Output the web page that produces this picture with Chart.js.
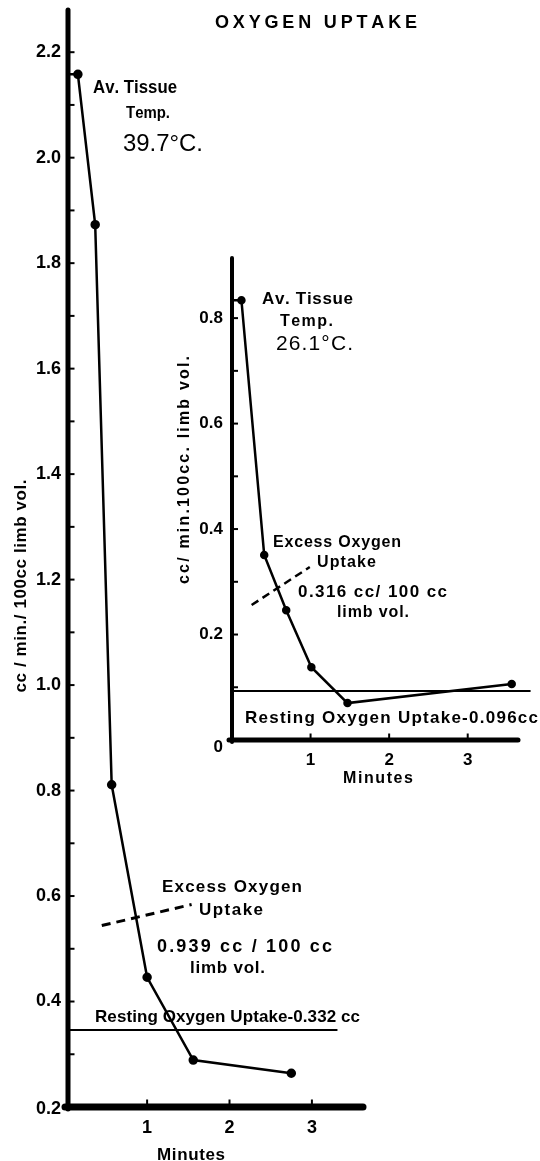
<!DOCTYPE html>
<html>
<head>
<meta charset="utf-8">
<script src="https://cdn.jsdelivr.net/npm/chart.js@4/dist/chart.umd.min.js"></script>
<style>
  html, body { margin: 0; padding: 0; background: #fff; }
  #wrap { position: relative; width: 540px; height: 1161px; overflow: hidden; }
  #wrap canvas { position: absolute; left: 0; top: 0; }
</style>
</head>
<body>
<div id="wrap">
  <canvas id="mainChart" width="540" height="1161"></canvas>
  <canvas id="insetChart" width="540" height="1161"></canvas>
</div>
<script>
// ---------- DATA ----------
// Main chart: Av. tissue temp 39.7 °C
const mainMinutes = [0.04, 0.16, 0.37, 0.57, 1.0, 1.56, 2.75];
const mainUptake  = [2.158, 2.158, 1.873, 0.811, 0.446, 0.289, 0.264];
const mainRestingMinutes = [0.04, 3.31];
const mainRestingUptake  = [0.346, 0.346];
const mainPointerMinutes = [0.45, 1.54];
const mainPointerUptake  = [0.544, 0.584];
const mainYTickValues = [0.2, 0.4, 0.6, 0.8, 1.0, 1.2, 1.4, 1.6, 1.8, 2.0, 2.2];
const mainYTickLabels = ['0.2', '0.4', '0.6', '0.8', '1.0', '1.2', '1.4', '1.6', '1.8', '2.0', '2.2'];
const mainYMinorTicks = [0.3, 0.5, 0.7, 0.9, 1.1, 1.3, 1.5, 1.7, 1.9, 2.1];
const mainXTickValues = [1, 2, 3];
const mainXTickLabels = ['1', '2', '3'];

// Inset chart: Av. tissue temp 26.1 °C
const insetMinutes = [0, 0.12, 0.41, 0.69, 1.01, 1.47, 3.56];
const insetUptake  = [0.834, 0.834, 0.351, 0.246, 0.138, 0.070, 0.106];
const insetRestingMinutes = [0, 3.80];
const insetRestingUptake  = [0.093, 0.093];
const insetPointerMinutes = [0.25, 0.99];
const insetPointerUptake  = [0.256, 0.328];
const insetYTickValues = [0, 0.2, 0.4, 0.6, 0.8];
const insetYTickLabels = ['0', '0.2', '0.4', '0.6', '0.8'];
const insetYMinorTicks = [0.1, 0.3, 0.5, 0.7];
const insetXTickValues = [1, 2, 3];
const insetXTickLabels = ['1', '2', '3'];

// ---------- helpers ----------
const FONT = '"Liberation Sans", Arial, sans-serif';
const pts = (xs, ys) => xs.map((x, i) => ({ x: x, y: ys[i] }));

function drawFitted(ctx, text, xl, xr, baseline, size, weight) {
  ctx.font = weight + ' ' + size + 'px ' + FONT;
  const target = xr - xl;
  const chars = Array.from(text);
  const widths = chars.map(c => ctx.measureText(c).width);
  const sum = widths.reduce((a, b) => a + b, 0);
  ctx.textBaseline = 'alphabetic';
  ctx.textAlign = 'left';
  if (sum <= target && chars.length > 1) {
    const gap = (target - sum) / (chars.length - 1);
    let x = xl;
    chars.forEach((c, i) => { ctx.fillText(c, x, baseline); x += widths[i] + gap; });
  } else {
    ctx.save();
    ctx.translate(xl, baseline);
    ctx.scale(target / sum, 1);
    let x = 0;
    chars.forEach((c, i) => { ctx.fillText(c, x, 0); x += widths[i]; });
    ctx.restore();
  }
}

function axesPlugin(cfg) {
  return {
    id: 'axes_' + cfg.name,
    afterDatasetsDraw(chart) {
      const ctx = chart.ctx;
      const xs = chart.scales.x, ys = chart.scales.y;
      const x0 = xs.getPixelForValue(xs.min);
      const yBase = ys.getPixelForValue(ys.min);
      ctx.save();
      ctx.fillStyle = '#000';
      ctx.strokeStyle = '#000';
      ctx.lineCap = 'round';
      // y axis
      ctx.lineWidth = cfg.yAxisWidth;
      ctx.beginPath();
      ctx.moveTo(x0, ys.getPixelForValue(ys.max));
      ctx.lineTo(x0, yBase + 2);
      ctx.stroke();
      // x axis
      ctx.lineWidth = cfg.xAxisWidth;
      ctx.beginPath();
      ctx.moveTo(x0 - 3, yBase);
      ctx.lineTo(xs.getPixelForValue(xs.max), yBase);
      ctx.stroke();
      // y ticks (inside, to the right)
      ctx.lineCap = 'butt';
      ctx.lineWidth = 2;
      cfg.yTicks.concat(cfg.yMinor).forEach(v => {
        if (v === ys.min) return;
        const py = ys.getPixelForValue(v);
        ctx.beginPath();
        ctx.moveTo(x0, py);
        ctx.lineTo(x0 + cfg.yAxisWidth / 2 + 4, py);
        ctx.stroke();
      });
      // x ticks (inside, upward)
      cfg.xTicks.forEach(v => {
        const px = xs.getPixelForValue(v);
        ctx.beginPath();
        ctx.moveTo(px, yBase);
        ctx.lineTo(px, yBase - cfg.xAxisWidth / 2 - 4);
        ctx.stroke();
      });
      // tick labels
      ctx.font = 'bold ' + cfg.tickSize + 'px ' + FONT;
      ctx.textAlign = 'right';
      ctx.textBaseline = 'middle';
      cfg.yTicks.forEach((v, i) => {
        const dy = (v === ys.min) ? cfg.yZeroLabelShift : 0;
        ctx.fillText(cfg.yLabels[i], cfg.yLabelRight, ys.getPixelForValue(v) + dy);
      });
      ctx.textAlign = 'center';
      ctx.textBaseline = 'alphabetic';
      cfg.xTicks.forEach((v, i) => {
        ctx.fillText(cfg.xLabels[i], xs.getPixelForValue(v), cfg.xLabelBaseline);
      });
      // free texts
      cfg.texts.forEach(t => drawFitted(ctx, t[0], t[1], t[2], t[3], t[4], t[5]));
      // rotated y title
      const r = cfg.yTitle;
      ctx.save();
      ctx.translate(r.cx, r.cy);
      ctx.rotate(-Math.PI / 2);
      drawFitted(ctx, r.text, -r.len / 2, r.len / 2, r.size * 0.36, r.size, 'bold');
      ctx.restore();
      ctx.restore();
    }
  };
}

function lineDs(data, width, radius, dash) {
  return {
    data: data,
    showLine: true,
    borderColor: '#000',
    backgroundColor: '#000',
    borderWidth: width,
    pointRadius: radius,
    pointBackgroundColor: '#000',
    pointBorderColor: '#000',
    borderDash: dash || [],
    tension: 0,
    clip: false
  };
}

function baseOptions(padding, xmin, xmax, ymin, ymax) {
  return {
    responsive: false,
    animation: false,
    devicePixelRatio: 1,
    layout: { padding: padding },
    plugins: { legend: { display: false }, tooltip: { enabled: false }, title: { display: false } },
    events: [],
    scales: {
      x: { type: 'linear', min: xmin, max: xmax, display: false },
      y: { type: 'linear', min: ymin, max: ymax, display: false }
    }
  };
}

const whiteBg = {
  id: 'whiteBg',
  beforeDraw(chart) {
    const c = chart.ctx;
    c.save(); c.fillStyle = '#fff'; c.fillRect(0, 0, chart.width, chart.height); c.restore();
  }
};

// ---------- main chart ----------
new Chart(document.getElementById('mainChart'), {
  type: 'scatter',
  data: {
    datasets: [
      lineDs(pts(mainRestingMinutes, mainRestingUptake), 2, 0),
      lineDs(pts(mainPointerMinutes, mainPointerUptake), 3, 0, [9, 6]),
      Object.assign(lineDs(pts(mainMinutes, mainUptake), 2.5, 3.5), { pointRadius: mainMinutes.map((m, i) => i === 0 ? 0 : 3.5) })
    ]
  },
  options: baseOptions({ left: 68, right: 177, top: 10, bottom: 54 }, 0.04, 3.62, 0.2, 2.28),
  plugins: [whiteBg, axesPlugin({
    name: 'main', yAxisWidth: 5, xAxisWidth: 7, tickSize: 18,
    yTicks: mainYTickValues, yLabels: mainYTickLabels, yMinor: mainYMinorTicks,
    xTicks: mainXTickValues, xLabels: mainXTickLabels,
    yLabelRight: 61, xLabelBaseline: 1133, yZeroLabelShift: 2,
    texts: [
      ['OXYGEN UPTAKE', 215, 417, 28, 18, 'bold'],
      ['Av. Tissue', 93, 177, 93, 18, 'bold'],
      ['Temp.', 126, 170, 118, 17, 'bold'],
      ['39.7°C.', 123, 203, 151, 24, 'normal'],
      ['Excess Oxygen', 162, 302, 892, 17, 'bold'],
      ['Uptake', 199, 263, 915, 17, 'bold'],
      ['0.939 cc / 100 cc', 157, 332, 952, 18, 'bold'],
      ['limb vol.', 190, 265, 973, 17, 'bold'],
      ['Resting Oxygen Uptake-0.332 cc', 95, 360, 1022, 17, 'bold'],
      ['Minutes', 157, 225, 1160, 17, 'bold']
    ],
    yTitle: { text: 'cc / min./ 100cc limb vol.', cx: 20, cy: 586, len: 213, size: 17 }
  })]
});

// ---------- inset chart ----------
new Chart(document.getElementById('insetChart'), {
  type: 'scatter',
  data: {
    datasets: [
      lineDs(pts(insetRestingMinutes, insetRestingUptake), 2, 0),
      lineDs(pts(insetPointerMinutes, insetPointerUptake), 2.5, 0, [8, 5]),
      Object.assign(lineDs(pts(insetMinutes, insetUptake), 2.5, 3), { pointRadius: insetMinutes.map((m, i) => i === 0 ? 0 : 3) })
    ]
  },
  options: baseOptions({ left: 232, right: 22, top: 258, bottom: 421 }, 0, 3.64, 0, 0.914),
  plugins: [axesPlugin({
    name: 'inset', yAxisWidth: 4, xAxisWidth: 5, tickSize: 17,
    yTicks: insetYTickValues, yLabels: insetYTickLabels, yMinor: insetYMinorTicks,
    xTicks: insetXTickValues, xLabels: insetXTickLabels,
    yLabelRight: 223, xLabelBaseline: 765, yZeroLabelShift: 7,
    texts: [
      ['Av. Tissue', 262, 353, 304, 17, 'bold'],
      ['Temp.', 280, 333, 326, 16, 'bold'],
      ['26.1°C.', 276, 353, 350, 21, 'normal'],
      ['Excess Oxygen', 273, 401, 547, 16, 'bold'],
      ['Uptake', 317, 376, 567, 16, 'bold'],
      ['0.316 cc/ 100 cc', 298, 447, 597, 17, 'bold'],
      ['limb vol.', 337, 409, 617, 16, 'bold'],
      ['Resting Oxygen Uptake-0.096cc', 245, 538, 723, 17, 'bold'],
      ['Minutes', 343, 413, 783, 16, 'bold']
    ],
    yTitle: { text: 'cc/ min.100cc. limb vol.', cx: 183, cy: 470, len: 228, size: 16 }
  })]
});
</script>
</body>
</html>
